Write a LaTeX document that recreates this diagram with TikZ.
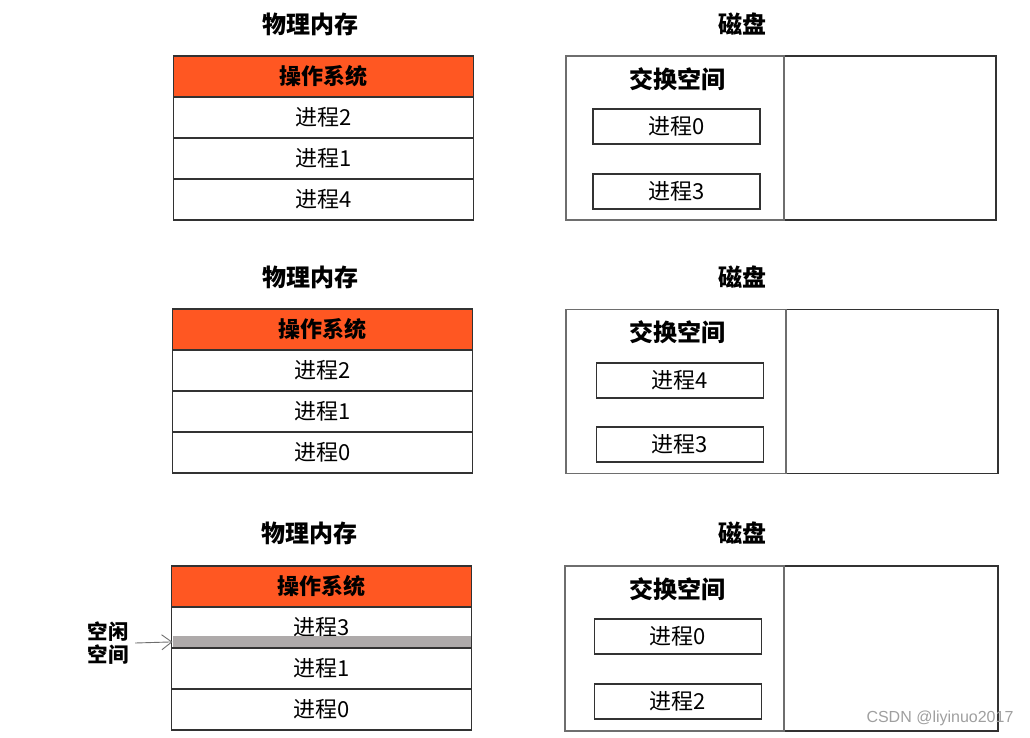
\documentclass[tikz,border=0pt]{standalone}
\usepackage{fontspec}
\setmainfont{Noto Sans CJK SC}
\newfontfamily\markfont{Liberation Sans}
\usetikzlibrary{positioning,arrows.meta}
\definecolor{osorange}{RGB}{255,87,34}
\definecolor{freegray}{RGB}{174,170,170}
\definecolor{edgegray}{RGB}{50,50,50}
\definecolor{splitgray}{RGB}{110,110,110}

\tikzset{
  title/.style={font=\fontsize{24}{28}\selectfont\bfseries},
  osrow/.style={draw=edgegray, fill=osorange, line width=1.2pt, outer sep=0pt,
    minimum width=300pt, minimum height=41pt, inner sep=0pt,
    font=\fontsize{22}{26}\selectfont\bfseries},
  memrow/.style={draw=edgegray, line width=1.2pt, outer sep=0pt,
    minimum width=300pt, minimum height=41pt, inner sep=0pt,
    font=\fontsize{22}{26}\selectfont},
  diskbox/.style={draw=edgegray, line width=1.2pt, outer sep=0pt, inner sep=0pt,
    minimum height=164pt},
  swapbox/.style={draw=splitgray, line width=1.4pt, outer sep=0pt, inner sep=0pt,
    minimum height=164pt},
  procbox/.style={draw=edgegray, line width=1.2pt, minimum width=167pt,
    minimum height=35pt, inner sep=0pt, font=\fontsize{22}{26}\selectfont},
  freeband/.style={fill=freegray, minimum width=298pt, minimum height=11pt,
    inner sep=0pt, outer sep=0pt},
  freelabel/.style={align=center, font=\fontsize{20.5}{23}\selectfont\bfseries},
  pointer/.style={draw=splitgray, line width=0.9pt,
    -{Straight Barb[length=10pt,width=15pt]}}
}

\begin{document}
\begin{tikzpicture}[x=1pt,y=-1pt]
\useasboundingbox (0,0) rectangle (1030,737);

% top row
\node[title] (mem1) at (310,24) {物理内存};
\node[title] (dk1) at (742,24) {磁盘};
\node[osrow] (os1) at (323.5,76.5) {操作系统};
\node[memrow, below=0pt of os1] (m1a) {进程2};
\node[memrow, below=0pt of m1a] (m1b) {进程1};
\node[memrow, below=0pt of m1b] (m1c) {进程4};
\node[diskbox, minimum width=430pt] (disk1) at (781,138) {};
\node[swapbox, minimum width=218pt, anchor=west] (swap1) at (disk1.west) {};
\node[title] (sw1) at (677,79) {交换空间};
\node[procbox] (s1a) at (676.5,126.5) {进程0};
\node[procbox] (s1b) at (676.5,191.5) {进程3};

% middle row
\node[title] (mem2) at (310,277) {物理内存};
\node[title] (dk2) at (742,277) {磁盘};
\node[osrow] (os2) at (322.5,329.5) {操作系统};
\node[memrow, below=0pt of os2] (m2a) {进程2};
\node[memrow, below=0pt of m2a] (m2b) {进程1};
\node[memrow, below=0pt of m2b] (m2c) {进程0};
\node[diskbox, minimum width=432pt] (disk2) at (782,391.5) {};
\node[swapbox, minimum width=220pt, anchor=west] (swap2) at (disk2.west) {};
\node[title] (sw2) at (677,332) {交换空间};
\node[procbox] (s2a) at (680,380.5) {进程4};
\node[procbox] (s2b) at (680,444.5) {进程3};

% bottom row
\node[title] (mem3) at (309,533) {物理内存};
\node[title] (dk3) at (742,533) {磁盘};
\node[osrow] (os3) at (321.5,586.5) {操作系统};
\node[memrow, below=0pt of os3] (m3a) {\raisebox{2.5pt}{进程3}};
\node[memrow, below=0pt of m3a] (m3b) {进程1};
\node[memrow, below=0pt of m3b] (m3c) {进程0};
\node[freeband, anchor=south] (free3) at ([yshift=0.6pt]m3a.south) {};
\node[freelabel] (fl3) at (108,643) {空闲\\空间};
\draw[pointer] ([xshift=3pt]fl3.east) -- (free3.west);
\node[diskbox, minimum width=433pt, minimum height=165pt] (disk3) at (781.5,648.5) {};
\node[swapbox, minimum width=219pt, minimum height=165pt, anchor=west] (swap3) at (disk3.west) {};
\node[title] (sw3) at (677,589) {交换空间};
\node[procbox] (s3a) at (678,636.5) {进程0};
\node[procbox] (s3b) at (678,701.5) {进程2};

\node[anchor=east, text=gray!75, font=\markfont\fontsize{16}{18}\selectfont] (wm) at (1017,718) {CSDN @liyinuo2017};
\end{tikzpicture}
\end{document}
